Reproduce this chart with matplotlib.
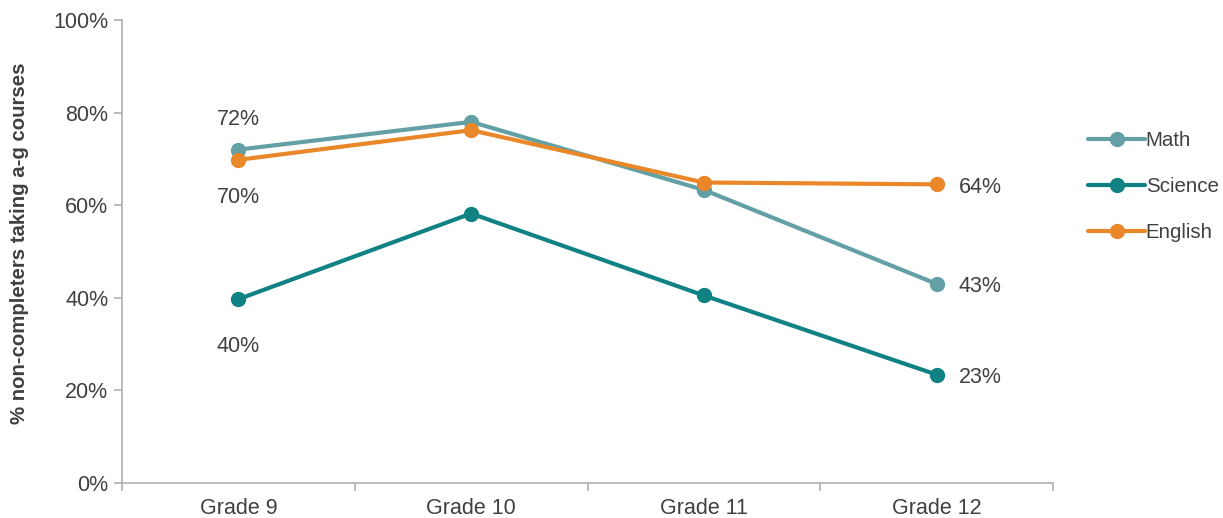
import matplotlib
matplotlib.use("Agg")
from matplotlib import pyplot as plt
from matplotlib.ticker import PercentFormatter

grades = ["Grade 9", "Grade 10", "Grade 11", "Grade 12"]
math = [72, 78, 63.3, 43]
science = [39.7, 58.2, 40.5, 23.4]
english = [69.8, 76.2, 64.9, 64.5]

series = [("Math", math, "#62a0a6"), ("Science", science, "#108284"), ("English", english, "#ea8729")]
txt = "#404040"
grey = "#b0b0b0"
fs = 15.5

plt.rcParams.update({"font.family": ["Liberation Sans", "DejaVu Sans"], "font.size": fs})
fig = plt.figure(figsize=(12.23, 5.18), dpi=100)
ax = fig.add_axes([0.0998, 0.0676, 0.7612, 0.8938])

x = range(len(grades))
for name, vals, col in series:
    ax.plot(x, vals, color=col, lw=3, marker="o", ms=10, label=name, solid_capstyle="round")

# point labels
ax.annotate("%d%%" % round(math[0]), (0, math[0]), xytext=(0, 22), textcoords="offset points",
            ha="center", va="center", color=txt)
ax.annotate("%d%%" % round(english[0]), (0, english[0]), xytext=(0, -27), textcoords="offset points",
            ha="center", va="center", color=txt)
ax.annotate("%d%%" % round(science[0]), (0, science[0]), xytext=(0, -34), textcoords="offset points",
            ha="center", va="center", color=txt)
for vals in (english, math, science):
    ax.annotate("%d%%" % int(vals[-1]), (3, vals[-1]), xytext=(16, -2), textcoords="offset points",
                ha="left", va="center", color=txt)

ax.set_xlim(-0.5, 3.5)
ax.set_ylim(0, 100)
ax.set_yticks(range(0, 101, 20))
ax.yaxis.set_major_formatter(PercentFormatter(decimals=0))
ax.set_xticks(list(x))
ax.set_xticklabels(grades)
ax.set_xticks([-0.5, 0.5, 1.5, 2.5, 3.5], minor=True)
ax.tick_params(axis="x", which="major", length=0, pad=11, colors=txt)
ax.tick_params(axis="x", which="minor", length=6, color=grey, width=1.2)
ax.tick_params(axis="y", length=6, color=grey, width=1.2, colors=txt, pad=4)
for s in ("top", "right"):
    ax.spines[s].set_visible(False)
for s in ("left", "bottom"):
    ax.spines[s].set_color(grey)
    ax.spines[s].set_linewidth(1.2)
ax.set_ylabel("% non-completers taking a-g courses", fontweight="bold", color=txt, labelpad=17,
              fontsize=14.7, y=0.517)

ax.legend(loc="center left", bbox_to_anchor=(1.018, 0.64), frameon=False, handlelength=2.75,
          handletextpad=0.05, labelspacing=1.3, labelcolor=txt, fontsize=14.8)

fig.savefig("out.png", dpi=100)
